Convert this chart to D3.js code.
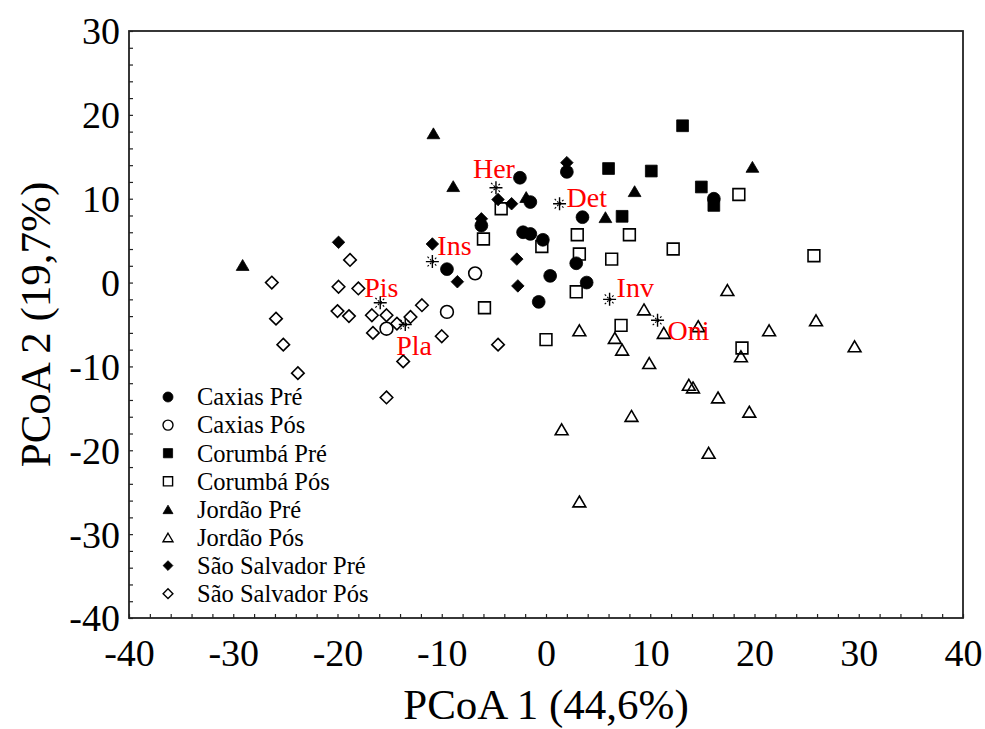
<!DOCTYPE html>
<html>
<head>
<meta charset="utf-8">
<script src="https://cdn.jsdelivr.net/npm/d3@7"></script>
<style>
  html, body { margin: 0; padding: 0; background: #fff; }
  svg { display: block; font-family: "Liberation Serif", "Times New Roman", serif; }
</style>
</head>
<body>
<svg id="chart" width="985" height="729"></svg>
<script>
// ---- Data: PCoA scores per site and period ----
const groupNames = ["Caxias Pré", "Caxias Pós", "Corumbá Pré", "Corumbá Pós",
                    "Jordão Pré", "Jordão Pós", "São Salvador Pré", "São Salvador Pós"];
const groupShapes = ["circle", "circle", "square", "square",
                     "triangle", "triangle", "diamond", "diamond"];
const groupFilled = [true, false, true, false, true, false, true, false];

const caxiasPre = [[-2.5, 12.5], [-1.5, 9.6], [2.0, 13.2], [3.5, 7.8], [-6.2, 6.8],
                   [-2.2, 6.0], [-1.5, 5.8], [-0.3, 5.1], [-9.5, 1.6], [0.4, 0.8],
                   [2.9, 2.3], [3.9, 0.0], [-0.7, -2.3], [16.1, 10.0]];
const caxiasPos = [[-6.8, 1.1], [-9.5, -3.5], [-15.3, -5.5]];
const corumbaPre = [[13.1, 18.7], [6.0, 13.6], [10.1, 13.3], [7.3, 7.9], [14.9, 11.4], [16.1, 9.2]];
const corumbaPos = [[-4.3, 8.8], [-6.0, 5.2], [-0.4, 4.3], [3.0, 5.7], [3.2, 3.4],
                    [6.3, 2.8], [8.0, 5.7], [12.2, 4.0], [-5.9, -3.0], [2.9, -1.1],
                    [18.5, 10.5], [25.7, 3.2], [7.2, -5.1], [0.0, -6.8], [18.8, -7.8]];
const jordaoPre = [[-10.8, 17.8], [-8.9, 11.5], [-1.9, 10.2], [8.5, 10.9], [5.7, 7.8],
                   [19.8, 13.8], [-29.1, 2.1]];
const jordaoPos = [[17.4, -0.9], [9.4, -3.2], [3.2, -5.7], [6.6, -6.6], [7.3, -8.0],
                   [11.3, -6.0], [14.6, -5.2], [21.4, -5.7], [25.9, -4.5], [29.6, -7.6],
                   [18.7, -8.8], [9.9, -9.6], [13.7, -12.2], [14.1, -12.5], [16.5, -13.7],
                   [19.5, -15.4], [8.2, -15.9], [1.5, -17.5], [15.6, -20.3], [3.2, -26.1]];
const saoSalvadorPre = [[2.0, 14.3], [-6.2, 7.6], [-4.6, 9.9], [-3.3, 9.4], [-10.9, 4.6],
                        [-2.8, 2.8], [-8.5, 0.1], [-2.7, -0.4], [-19.9, 4.8]];
const saoSalvadorPos = [[-18.8, 2.7], [-26.3, 0.0], [-19.9, -0.5], [-18.0, -0.7], [-25.9, -4.3],
                        [-20.0, -3.4], [-18.9, -4.0], [-16.7, -3.9], [-15.3, -3.9], [-14.3, -4.9],
                        [-13.0, -4.1], [-11.9, -2.7], [-16.6, -6.0], [-25.2, -7.4], [-10.0, -6.4],
                        [-4.6, -7.4], [-13.7, -9.4], [-23.8, -10.8], [-15.3, -13.7]];
const groupPoints = [caxiasPre, caxiasPos, corumbaPre, corumbaPos,
                     jordaoPre, jordaoPos, saoSalvadorPre, saoSalvadorPos];

// Food-category vectors (centroids)
const centroidNames = ["Her", "Det", "Ins", "Pis", "Pla", "Inv", "Oni"];
const centroidX = [-4.8, 1.3, -10.9, -15.9, -13.5, 6.1, 10.7];
const centroidY = [11.3, 9.4, 2.5, -2.4, -5.0, -2.0, -4.5];

// Axes
const xTickValues = [-40, -30, -20, -10, 0, 10, 20, 30, 40];
const yTickValues = [-40, -30, -20, -10, 0, 10, 20, 30];
const xTitle = "PCoA 1 (44,6%)";
const yTitle = "PCoA 2 (19,7%)";

// ---- Layout ----
const frame = { left: 129, top: 31, right: 963, bottom: 618 };
const svg = d3.select("#chart");
const serif = "'Liberation Serif', 'Times New Roman', serif";

const x = d3.scaleLinear().domain([-40, 40]).range([frame.left, frame.right]);
const y = d3.scaleLinear().domain([-40, 30]).range([frame.bottom, frame.top]);

// label placement for centroid names, in pixels relative to the star
const centroidLabelOffset = {
  Her: [-23, -10], Det: [7, 3], Ins: [5, -7], Pis: [-16, -6],
  Pla: [-9, 30], Inv: [7, -2], Oni: [10, 20]
};

function markerPath(shape, r) {
  if (shape === "circle") {
    const p = d3.path(); p.arc(0, 0, r, 0, 2 * Math.PI); p.closePath(); return p.toString();
  }
  if (shape === "square") {
    const s = r * 0.92;
    return `M${-s},${-s}H${s}V${s}H${-s}Z`;
  }
  if (shape === "triangle") {
    const w = r, h = r * 0.85;
    return `M0,${-h}L${w},${h}L${-w},${h}Z`;
  }
  // diamond
  const d = r * 0.98;
  return `M0,${-d}L${d},0L0,${d}L${-d},0Z`;
}

// plain hyphen-minus labels
const tickLabel = vals => d => vals.includes(d) ? String(d) : "";

// ---- Axes with inward ticks every 2 units ----
const minorX = d3.range(-40, 40.01, 2);
const minorY = d3.range(-40, 30.01, 2);

const gx = svg.append("g").attr("transform", `translate(0,${frame.bottom})`)
  .call(d3.axisBottom(x).tickValues(minorX).tickSize(-4).tickSizeOuter(0)
        .tickFormat(tickLabel(xTickValues)));
gx.attr("font-family", serif);
gx.select(".domain").remove();
gx.selectAll(".tick line").attr("stroke", "#222").attr("stroke-width", 1.2);
gx.selectAll(".tick text").attr("font-size", 38).attr("font-family", serif)
  .attr("fill", "#000").attr("y", 21).attr("dy", "0.71em");

const gy = svg.append("g").attr("transform", `translate(${frame.left},0)`)
  .call(d3.axisLeft(y).tickValues(minorY).tickSize(-4).tickSizeOuter(0)
        .tickFormat(tickLabel(yTickValues)));
gy.attr("font-family", serif);
gy.select(".domain").remove();
gy.selectAll(".tick line").attr("stroke", "#222").attr("stroke-width", 1.2);
gy.selectAll(".tick text").attr("font-size", 38).attr("font-family", serif)
  .attr("fill", "#000").attr("x", -9).attr("dy", "0.34em");

// frame
svg.append("rect")
  .attr("x", frame.left).attr("y", frame.top)
  .attr("width", frame.right - frame.left).attr("height", frame.bottom - frame.top)
  .attr("fill", "none").attr("stroke", "#222").attr("stroke-width", 1.8);

// axis titles
svg.append("text").attr("x", (frame.left + frame.right) / 2).attr("y", 719)
  .attr("text-anchor", "middle").attr("font-size", 43).text(xTitle);
svg.append("text").attr("transform", `translate(50,${(frame.top + frame.bottom) / 2}) rotate(-90)`)
  .attr("text-anchor", "middle").attr("font-size", 43).text(yTitle);

// ---- Points ----
const plot = svg.append("g");
groupPoints.forEach((pts, gi) => {
  plot.append("g").selectAll("path").data(pts).join("path")
    .attr("transform", d => `translate(${x(d[0])},${y(d[1])})`)
    .attr("d", markerPath(groupShapes[gi], 6.4))
    .attr("fill", groupFilled[gi] ? "#000" : "none")
    .attr("stroke", "#000")
    .attr("stroke-width", groupFilled[gi] ? 0.8 : 1.6);
});

// ---- Centroid stars and labels ----
const cent = svg.append("g");
centroidNames.forEach((name, i) => {
  const cx = x(centroidX[i]), cy = y(centroidY[i]);
  const g = cent.append("g").attr("transform", `translate(${cx},${cy})`);
  const r = 6.5;
  g.append("path").attr("d", `M${-r},0H${r}M0,${-r}V${r}`).attr("stroke", "#000").attr("stroke-width", 1.4);
  const q = r * 0.75;
  g.append("path").attr("d", `M${-q},${-q}L${q},${q}M${-q},${q}L${q},${-q}`)
    .attr("stroke", "#000").attr("stroke-width", 1.1).attr("stroke-dasharray", "2,1.5");
  const off = centroidLabelOffset[name];
  cent.append("text").attr("x", cx + off[0]).attr("y", cy + off[1])
    .attr("font-size", 28).attr("fill", "#ff0000").text(name);
});

// ---- Legend ----
const legend = svg.append("g").attr("transform", "translate(168,397)");
groupNames.forEach((name, i) => {
  const row = legend.append("g").attr("transform", `translate(0,${i * 28.1})`);
  row.append("path").attr("d", markerPath(groupShapes[i], 5))
    .attr("fill", groupFilled[i] ? "#000" : "none")
    .attr("stroke", "#000").attr("stroke-width", groupFilled[i] ? 0.8 : 1.4);
  row.append("text").attr("x", 29).attr("y", 0).attr("dy", "0.34em")
    .attr("font-size", 24.5).attr("fill", "#000").text(name);
});
</script>
</body>
</html>
